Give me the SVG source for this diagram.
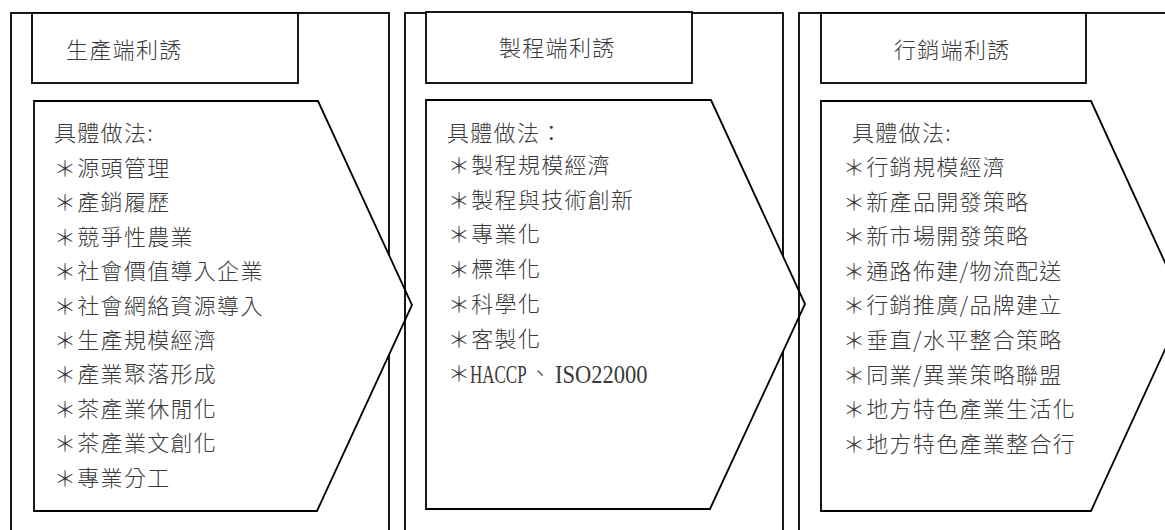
<svg xmlns="http://www.w3.org/2000/svg" width="1165" height="530" viewBox="0 0 1165 530">
<style>
.panel{fill:#fff;stroke:#000;stroke-width:1.8}
.box{fill:#fff;stroke:#000;stroke-width:1.8}
.arrow{fill:#fff;stroke:#000;stroke-width:1.8;stroke-linejoin:miter}
.t{font-family:"Noto Sans CJK TC","Noto Sans CJK SC",sans-serif;font-size:22px;font-weight:300;letter-spacing:1.3px;fill:#3a3a3a}
.s{font-family:"Liberation Serif",serif;font-size:25px;fill:#3a3a3a}
</style>
<rect width="1165" height="530" fill="#fff"/>
<g id="panel-production">
  <rect class="panel" x="11" y="13" width="378" height="560"/>
  <rect class="box" x="32" y="13" width="266" height="70"/>
  <text class="t" x="66" y="58">生產端利誘</text>
</g>
<g id="arrow-production">
  <polygon class="arrow" points="34,101 318,101 412,305 317,511 34,511"/>
  <text class="t" x="54" y="141">具體做法:</text>
  <text class="t" x="54" y="176">＊源頭管理</text>
  <text class="t" x="54" y="210.4">＊產銷履歷</text>
  <text class="t" x="54" y="244.8">＊競爭性農業</text>
  <text class="t" x="54" y="279.2">＊社會價值導入企業</text>
  <text class="t" x="54" y="313.6">＊社會網絡資源導入</text>
  <text class="t" x="54" y="348">＊生產規模經濟</text>
  <text class="t" x="54" y="382.4">＊產業聚落形成</text>
  <text class="t" x="54" y="416.8">＊茶產業休閒化</text>
  <text class="t" x="54" y="451.2">＊茶產業文創化</text>
  <text class="t" x="54" y="485.6">＊專業分工</text>
</g>
<g id="panel-process">
  <rect class="panel" x="405" y="13" width="378" height="560" style="fill:none"/>
  <rect class="box" x="426" y="12" width="266" height="71"/>
  <text class="t" x="499" y="55.5">製程端利誘</text>
</g>
<g id="arrow-process">
  <polygon class="arrow" points="426,100 711,100 805,304 710,509 426,509"/>
  <text class="t" x="447" y="141">具體做法：</text>
  <text class="t" x="448" y="173">＊製程規模經濟</text>
  <text class="t" x="448" y="207.7">＊製程與技術創新</text>
  <text class="t" x="448" y="242.4">＊專業化</text>
  <text class="t" x="448" y="277.1">＊標準化</text>
  <text class="t" x="448" y="311.8">＊科學化</text>
  <text class="t" x="448" y="346.5">＊客製化</text>
  <text class="t" x="448" y="381.2">＊</text>
  <text class="s" transform="translate(470,383) scale(0.68,1)" x="0" y="0">HACCP</text>
  <text class="t" x="529" y="381.2" style="letter-spacing:0">、</text>
  <text class="s" transform="translate(555,383) scale(0.9,1)" x="0" y="0">ISO22000</text>
</g>
<g id="panel-marketing">
  <rect class="panel" x="799" y="13" width="420" height="560" style="fill:none"/>
  <rect class="box" x="821" y="13" width="265" height="70"/>
  <text class="t" x="894" y="58">行銷端利誘</text>
</g>
<g id="arrow-marketing">
  <polygon class="arrow" points="821,101 1091,101 1185,306 1091,511 821,511"/>
  <text class="t" x="852" y="141">具體做法:</text>
  <text class="t" x="843" y="175">＊行銷規模經濟</text>
  <text class="t" x="843" y="209.6">＊新產品開發策略</text>
  <text class="t" x="843" y="244.2">＊新市場開發策略</text>
  <text class="t" x="843" y="278.8">＊通路佈建/物流配送</text>
  <text class="t" x="843" y="313.4">＊行銷推廣/品牌建立</text>
  <text class="t" x="843" y="348">＊垂直/水平整合策略</text>
  <text class="t" x="843" y="382.6">＊同業/異業策略聯盟</text>
  <text class="t" x="843" y="417.2">＊地方特色產業生活化</text>
  <text class="t" x="843" y="451.8">＊地方特色產業整合行</text>
</g>
<g id="connectors"/>
</svg>
